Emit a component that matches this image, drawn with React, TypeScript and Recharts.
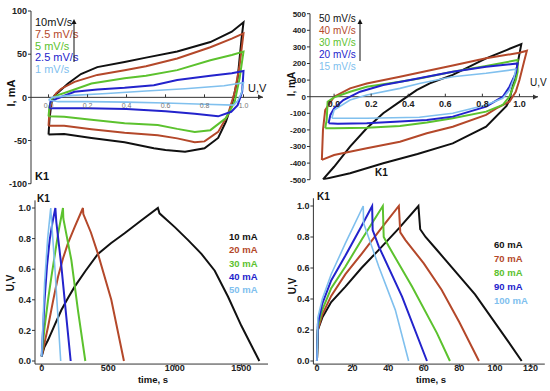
import { LineChart, Line, XAxis, YAxis, ReferenceLine } from "recharts";

// colours used by every panel, in legend order
const COLORS = ["#111111", "#b4482a", "#5cc22e", "#2323cc", "#80c0ee"];
const FONT = "'Liberation Sans', Arial, sans-serif";

// ---- CV, slow scan rates (U in V, I in mA) ----
const cvSlowLabels = ["10mV/s", "7.5 mV/s", "5 mV/s", "2.5 mV/s", "1 mV/s"];
const cv10 = [[0, -43], [0.005, -25], [0.015, -6], [0.03, 2], [0.05, 6], [0.1, 16], [0.166, 27], [0.25, 35], [0.39, 41], [0.5, 46], [0.66, 53], [0.83, 64], [0.94, 76], [1.0, 87], [0.99, 68], [0.97, 22], [0.944, -5], [0.91, -28], [0.87, -47], [0.8, -59], [0.7, -63], [0.6, -61], [0.54, -59], [0.39, -52], [0.22, -47], [0.08, -42.5], [0, -43]];
const cv75 = [[0, -33], [0.005, -15], [0.02, -2], [0.04, 5], [0.065, 10], [0.133, 18], [0.25, 26], [0.39, 31.5], [0.5, 36], [0.66, 45], [0.83, 58], [0.94, 68], [1.0, 74], [0.98, 37], [0.955, 6], [0.92, -20], [0.87, -40], [0.8, -51], [0.75, -52], [0.66, -47.5], [0.56, -44], [0.39, -41], [0.22, -37], [0.08, -33], [0, -33]];
const cv5 = [[0, -22], [0.005, -10], [0.02, -1], [0.048, 2.6], [0.1, 6.5], [0.22, 16], [0.39, 22], [0.5, 25], [0.66, 31.5], [0.83, 43], [0.94, 49], [1.0, 53], [0.98, 22], [0.955, -5], [0.91, -24], [0.83, -38], [0.75, -40], [0.66, -36.5], [0.56, -32], [0.39, -30], [0.22, -26], [0.08, -22.4], [0, -22]];
const cv25 = [[0.005, -12.7], [0.01, -5], [0.048, -1], [0.133, 6.5], [0.25, 9], [0.39, 11], [0.54, 14], [0.66, 20], [0.83, 25], [0.94, 28], [1.0, 30.5], [0.993, 6.5], [0.97, -9], [0.937, -16.7], [0.87, -22], [0.75, -19], [0.6, -16], [0.4, -13.5], [0.2, -12.5], [0.05, -12.7], [0.005, -12.7]];
const cv1 = [[0, -3], [0.02, 0], [0.1, 2], [0.3, 4.5], [0.5, 7.3], [0.7, 10], [0.9, 13.5], [1.0, 17], [0.99, 5], [0.97, -4], [0.95, -9], [0.8, -8], [0.6, -6.5], [0.4, -5.5], [0.2, -5], [0.05, -5], [0, -3]];
const cvSlowTicksX = [0, 0.2, 0.4, 0.6, 0.8, 1.0];
const cvSlowTicksY = [-100, -50, 0, 50, 100];

// ---- CV, fast scan rates ----
const cvFastLabels = ["50 mV/s", "40 mV/s", "30 mV/s", "20 mV/s", "15 mV/s"];
const cv50 = [[-0.06, -498], [0, -422], [0.086, -301], [0.176, -190], [0.265, -100], [0.355, -30], [0.445, 40], [0.516, 80], [0.64, 131], [0.82, 231], [0.93, 281], [1.01, 317], [0.98, 141], [0.946, -20], [0.93, -56], [0.82, -181], [0.64, -281], [0.45, -345], [0.265, -401], [0.086, -461], [-0.06, -498]];
const cv40 = [[-0.066, -381], [-0.06, -200], [-0.048, -80], [-0.03, -50], [0, 0], [0.086, 50], [0.176, 80], [0.355, 120], [0.5, 155], [0.64, 188], [0.82, 231], [1.0, 265], [1.04, 277], [1.027, 221], [1.0, 100], [0.98, 30], [0.946, -30], [0.875, -70], [0.82, -110], [0.64, -181], [0.5, -220], [0.355, -271], [0.176, -311], [0, -351], [-0.066, -381]];
const cv30 = [[-0.048, -190], [-0.04, -140], [-0.035, -30], [0, -4], [0.086, 30], [0.176, 60], [0.355, 90], [0.46, 110], [0.64, 150], [0.82, 185], [0.99, 221], [0.99, 150], [0.98, 100], [0.946, 0], [0.91, -50], [0.82, -90], [0.64, -130], [0.5, -156], [0.355, -176], [0.176, -187], [0, -190], [-0.048, -190]];
const cv20 = [[-0.03, -160], [-0.02, -110], [0, -70], [0.05, -20], [0.14, 30], [0.265, 70], [0.41, 100], [0.5, 120], [0.64, 150], [0.82, 180], [0.99, 200], [0.98, 141], [0.946, 60], [0.91, 0], [0.82, -60], [0.64, -120], [0.5, -140], [0.355, -150], [0.176, -160], [0.02, -163], [-0.03, -160]];
const cv15 = [[-0.012, -130], [0, -80], [0.086, -20], [0.176, 10], [0.355, 50], [0.46, 80], [0.64, 120], [0.82, 141], [0.98, 165], [0.97, 110], [0.946, 40], [0.91, -10], [0.82, -50], [0.64, -100], [0.46, -124], [0.176, -130], [-0.012, -130]];
const cvFastTicksX = [0, 0.2, 0.4, 0.6, 0.8, 1.0];
const cvFastTicksY = [-500, -400, -300, -200, -100, 0, 100, 200, 300, 400, 500];

// ---- charge / discharge, low currents (t in s, U in V) ----
const gcdLowLabels = ["10 mA", "20 mA", "30 mA", "40 mA", "50 mA"];
const g10 = [[0, 0.03], [20, 0.09], [48, 0.137], [100, 0.24], [148, 0.333], [200, 0.415], [248, 0.486], [330, 0.59], [423, 0.7], [520, 0.77], [623, 0.835], [750, 0.92], [873, 1.0], [885, 0.965], [1000, 0.875], [1100, 0.79], [1200, 0.7], [1300, 0.59], [1400, 0.42], [1500, 0.23], [1635, 0]];
const g20 = [[0, 0.03], [48, 0.224], [85, 0.39], [123, 0.55], [160, 0.67], [198, 0.77], [250, 0.88], [310, 1.0], [313, 0.96], [370, 0.84], [423, 0.7], [523, 0.4], [618, 0]];
const g30 = [[0, 0.03], [22, 0.22], [48, 0.4], [73, 0.55], [100, 0.7], [123, 0.83], [160, 1.0], [163, 0.93], [223, 0.66], [273, 0.33], [328, 0]];
const g40 = [[0, 0.03], [22, 0.4], [40, 0.62], [60, 0.79], [80, 0.9], [103, 1.0], [110, 0.91], [148, 0.62], [185, 0.29], [218, 0]];
const g50 = [[0, 0.03], [22, 0.51], [45, 0.8], [68, 1.0], [70, 0.97], [100, 0.6], [120, 0.32], [143, 0]];
const gcdLowTicksX = [0, 500, 1000, 1500];

// ---- charge / discharge, high currents ----
const gcdHighLabels = ["60 mA", "70 mA", "80 mA", "90 mA", "100 mA"];
const h60 = [[0, 0], [0.5, 0.2], [3, 0.28], [8, 0.38], [16, 0.48], [25, 0.6], [35, 0.72], [46, 0.856], [57, 1.0], [58, 0.85], [61, 0.8], [67.4, 0.716], [88.8, 0.43], [107.5, 0.125], [115, 0]];
const h70 = [[0, 0], [0.5, 0.2], [3, 0.3], [8, 0.42], [16, 0.56], [25, 0.69], [35, 0.84], [46, 1.0], [46.8, 0.83], [49.7, 0.78], [60, 0.63], [70, 0.46], [80, 0.25], [91, 0]];
const h80 = [[0, 0], [0.5, 0.22], [3, 0.33], [8, 0.47], [16, 0.61], [25, 0.78], [37, 1.0], [37.5, 0.8], [40.3, 0.74], [53.4, 0.48], [67.4, 0.18], [74.7, 0]];
const h90 = [[0, 0], [0.5, 0.24], [3, 0.37], [8, 0.52], [16, 0.68], [25, 0.87], [31, 1.0], [31.3, 0.845], [34.7, 0.74], [47.8, 0.415], [61.8, 0]];
const h100 = [[0, 0], [0.5, 0.28], [3, 0.4], [8, 0.56], [16, 0.76], [26, 1.0], [26.2, 0.89], [34.7, 0.61], [44, 0.33], [51.5, 0]];
const gcdHighTicksX = [0, 20, 40, 60, 80, 100, 120];
const gcdTicksY = [0, 0.2, 0.4, 0.6, 0.8, 1.0];

const pts = (arr: number[][]) => arr.map(([x, y]) => ({ x, y }));

const axisStroke = "#333";
const tickStyle = { fontSize: 9, fontWeight: "bold", fill: "#222", fontFamily: FONT };

// x ticks of the CV panels sit on the zero-current line
const zeroTick = (zeroY: number, size: number, fill: string, weight: string, dy: number) => (props: any) => {
  const { x, payload } = props;
  return (
    <g>
      <line x1={x} x2={x} y1={zeroY} y2={zeroY - 3} stroke={axisStroke} />
      <text x={x} y={zeroY + dy} textAnchor="middle" fontSize={size} fill={fill} fontWeight={weight} fontFamily={FONT}>
        {Number(payload.value).toFixed(1)}
      </text>
    </g>
  );
};

const Txt = ({ x, y, children, color = "#111", size = 10, bold = true, rotate = false, anchor = "left" }: any) => (
  <div
    style={{
      position: "absolute",
      left: x,
      top: y,
      color,
      fontSize: size,
      fontWeight: bold ? "bold" : "normal",
      fontFamily: FONT,
      lineHeight: 1,
      whiteSpace: "nowrap",
      transform: `translate(${anchor === "center" ? "-50%" : "0"}, -50%)${rotate ? " rotate(-90deg)" : ""}`,
      transformOrigin: "center",
    }}
  >
    {children}
  </div>
);

const Arrow = ({ x, y1, y2 }: any) => (
  <svg style={{ position: "absolute", left: x - 4, top: y2, overflow: "visible" }} width={8} height={y1 - y2}>
    <line x1={4} x2={4} y1={y1 - y2} y2={3} stroke="#111" strokeWidth={1} />
    <path d="M1.5,5 L4,0 L6.5,5 Z" fill="#111" />
  </svg>
);

const ArrowRight = ({ x, y }: any) => (
  <svg style={{ position: "absolute", left: x - 5, top: y - 3, overflow: "visible" }} width={6} height={6}>
    <path d="M0,0.5 L5,3 L0,5.5 Z" fill="#333" />
  </svg>
);

const cvSlowSeries = [cv10, cv75, cv5, cv25, cv1];
const cvFastSeries = [cv50, cv40, cv30, cv20, cv15];
const gcdLowSeries = [g10, g20, g30, g40, g50];
const gcdHighSeries = [h60, h70, h80, h90, h100];

const lines = (series: number[][][]) =>
  series.map((s, i) => (
    <Line
      key={i}
      data={pts(s)}
      dataKey="y"
      type="linear"
      stroke={COLORS[i]}
      strokeWidth={i === 4 ? 1.6 : 2}
      dot={false}
      isAnimationActive={false}
    />
  ));

export default function App() {
  const topH = 195;
  const tlTop = 11, tlBottom = 11.3;
  const tlZero = tlTop + (topH - tlTop - tlBottom) * 0.5;
  const trTop = 13.7, trBottom = 15.3;
  const trZero = trTop + (topH - trTop - trBottom) * 0.5;

  return (
    <div style={{ position: "absolute", left: 0, top: 0, width: 550, height: 391, background: "#fff", overflow: "hidden" }}>
      {/* top left CV */}
      <div style={{ position: "absolute", left: 0, top: 0 }}>
        <LineChart width={275} height={topH} margin={{ top: tlTop, right: 12, bottom: tlBottom - 1, left: 0 }}>
          <XAxis type="number" dataKey="x" domain={[-0.09, 1.1]} allowDataOverflow ticks={cvSlowTicksX} axisLine={false} tickLine={false} height={1} tick={zeroTick(tlZero, 7, "#777", "normal", 11)} />
          <YAxis type="number" domain={[-100, 100]} allowDataOverflow ticks={cvSlowTicksY} width={31} tickSize={3} tickMargin={1} stroke={axisStroke} tick={tickStyle} />
          <ReferenceLine y={0} stroke={axisStroke} />
          {lines(cvSlowSeries)}
        </LineChart>
      </div>
      {/* top right CV */}
      <div style={{ position: "absolute", left: 275, top: 0 }}>
        <LineChart width={275} height={topH} margin={{ top: trTop, right: 12, bottom: trBottom - 1, left: 0 }}>
          <XAxis type="number" dataKey="x" domain={[-0.13, 1.1]} allowDataOverflow ticks={cvFastTicksX} axisLine={false} tickLine={false} height={1} tick={zeroTick(trZero, 9, "#222", "bold", 10.5)} />
          <YAxis type="number" domain={[-500, 500]} allowDataOverflow ticks={cvFastTicksY} width={35} tickSize={3} tickMargin={1} stroke={axisStroke} tick={{ ...tickStyle, fontSize: 8 }} />
          <ReferenceLine y={0} stroke={axisStroke} />
          {lines(cvFastSeries)}
        </LineChart>
      </div>
      {/* bottom left GCD */}
      <div style={{ position: "absolute", left: 0, top: 195 }}>
        <LineChart width={275} height={196} margin={{ top: 5.35, right: 7, bottom: 6.94, left: 0 }}>
          <XAxis type="number" dataKey="x" domain={[-50, 1700]} allowDataOverflow ticks={gcdLowTicksX} height={20} tickSize={3} tickMargin={-2} stroke={axisStroke} tick={tickStyle} />
          <YAxis type="number" domain={[-0.02, 1.05]} allowDataOverflow ticks={gcdTicksY} tickFormatter={(v: number) => v.toFixed(1)} width={35} tickSize={3} tickMargin={1} stroke={axisStroke} tick={tickStyle} />
          {lines(gcdLowSeries)}
        </LineChart>
      </div>
      {/* bottom right GCD */}
      <div style={{ position: "absolute", left: 275, top: 195 }}>
        <LineChart width={275} height={196} margin={{ top: 3.25, right: 5.2, bottom: 6.9, left: 0 }}>
          <XAxis type="number" dataKey="x" domain={[-2, 128]} allowDataOverflow ticks={gcdHighTicksX} height={20} tickSize={3} tickMargin={-2} stroke={axisStroke} tick={tickStyle} />
          <YAxis type="number" domain={[-0.02, 1.05]} allowDataOverflow ticks={gcdTicksY} tickFormatter={(v: number) => v.toFixed(1)} width={38.4} tickSize={3} tickMargin={1} stroke={axisStroke} tick={tickStyle} />
          {lines(gcdHighSeries)}
        </LineChart>
      </div>

      {/* top left texts */}
      {cvSlowLabels.map((l, i) => (
        <Txt key={l} x={35} y={22 + i * 11.8} color={COLORS[i]} size={11} bold={false}>{l}</Txt>
      ))}
      <Arrow x={74} y1={62} y2={19} />
      <ArrowRight x={263} y={tlZero} />
      <Txt x={11} y={93} rotate anchor="center" size={11}>I, mA</Txt>
      <Txt x={248} y={88} size={11} bold={false}>U,V</Txt>
      <Txt x={35} y={176} size={11}>K1</Txt>

      {/* top right texts */}
      {cvFastLabels.map((l, i) => (
        <Txt key={l} x={319} y={18.5 + i * 12} color={COLORS[i]} size={10} bold={false}>{l}</Txt>
      ))}
      <Arrow x={360} y1={61} y2={19} />
      <ArrowRight x={538} y={trZero} />
      <Txt x={292} y={84} rotate anchor="center" size={10}>I, mA</Txt>
      <Txt x={530} y={83} size={10} bold={false}>U,V</Txt>
      <Txt x={375} y={173} size={10}>K1</Txt>

      {/* bottom left texts */}
      {gcdLowLabels.map((l, i) => (
        <Txt key={l} x={229} y={237 + i * 13.3} color={COLORS[i]} size={9.5}>{l}</Txt>
      ))}
      <Txt x={11} y={283} rotate anchor="center" size={10}>U,V</Txt>
      <Txt x={153} y={380} anchor="center" size={9.5}>time, s</Txt>
      <Txt x={37} y={199} size={10}>K1</Txt>

      {/* bottom right texts */}
      {gcdHighLabels.map((l, i) => (
        <Txt key={l} x={494} y={245 + i * 14} color={COLORS[i]} size={9.5}>{l}</Txt>
      ))}
      <Txt x={293} y={286} rotate anchor="center" size={10}>U,V</Txt>
      <Txt x={431} y={380} anchor="center" size={9.5}>time, s</Txt>
      <Txt x={317} y={197} size={10}>K1</Txt>
    </div>
  );
}
